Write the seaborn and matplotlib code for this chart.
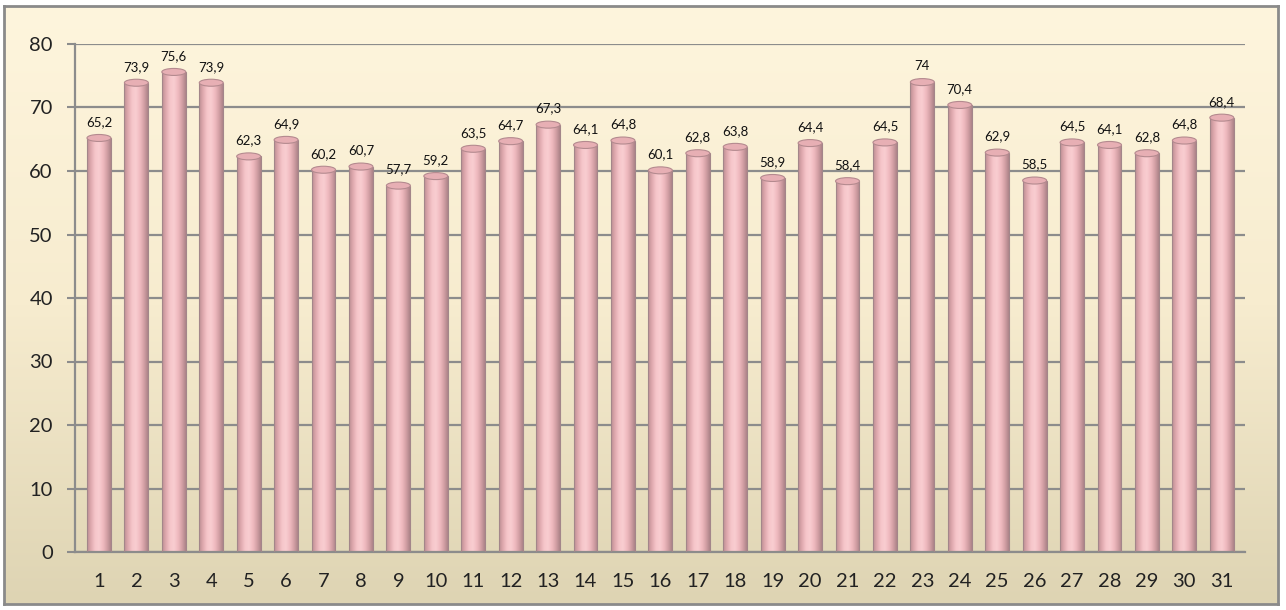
import numpy as np
import pandas as pd
import matplotlib
matplotlib.use("Agg")
import matplotlib.pyplot as plt
import seaborn as sns
from matplotlib.colors import LinearSegmentedColormap
from matplotlib.patches import Ellipse, Rectangle

days = [str(i) for i in range(1, 32)]
values = [65.2, 73.9, 75.6, 73.9, 62.3, 64.9, 60.2, 60.7, 57.7, 59.2,
          63.5, 64.7, 67.3, 64.1, 64.8, 60.1, 62.8, 63.8, 58.9, 64.4,
          58.4, 64.5, 74.0, 70.4, 62.9, 58.5, 64.5, 64.1, 62.8, 64.8, 68.4]
y_ticks = [0, 10, 20, 30, 40, 50, 60, 70, 80]

df = pd.DataFrame({"day": days, "value": values})

sns.set_theme(style="white")
plt.rcParams["font.family"] = ["Lato", "DejaVu Sans"]

W, H = 1286, 610
fig = plt.figure(figsize=(W / 100, H / 100), dpi=100)
fig.patch.set_facecolor("white")

# background panel with vertical gradient and grey border
bg = fig.add_axes([4 / W, 6 / H, (1278 - 4) / W, (604 - 6) / H])
bg_grad = np.linspace(0, 1, 256).reshape(-1, 1)
bg_cmap = LinearSegmentedColormap.from_list("bg", ["#FEF5DD", "#F7ECCF", "#DED4B3"])
bg.imshow(bg_grad, aspect="auto", cmap=bg_cmap, extent=[0, 1, 0, 1], origin="upper")
bg.set_xlim(0, 1)
bg.set_ylim(0, 1)
bg.set_xticks([])
bg.set_yticks([])
for s in bg.spines.values():
    s.set_color("#8A8A8A")
    s.set_linewidth(2)
bg.set_zorder(0)

ax = fig.add_axes([75 / W, 1 - 552 / H, (1245 - 75) / W, (552 - 44) / H])
ax.set_zorder(1)
ax.patch.set_alpha(0)

sns.barplot(data=df, x="day", y="value", ax=ax, color="#F0B9BD",
            width=0.64, edgecolor="none", linewidth=0, zorder=2)

cyl = LinearSegmentedColormap.from_list(
    "cyl", ["#BE8F93", "#E0AAAF", "#F6C6CA", "#F9CED1", "#F0BBC0", "#D6A2A7", "#AD8489"])
grad = np.linspace(0, 1, 64).reshape(1, -1)

xl = (-0.64, 30.62)
yl = (0, 80)
px_per_unit = (552 - 44) / 80.0
for p, v in zip(ax.patches, values):
    x0, w, h = p.get_x(), p.get_width(), p.get_height()
    im = ax.imshow(grad, extent=[x0, x0 + w, 0, h], aspect="auto", cmap=cyl,
                   zorder=2.5, interpolation="bicubic")
    im.set_clip_path(p)
    ax.add_patch(Rectangle((x0, 0), w, h, fill=False, edgecolor="#A3868A",
                           linewidth=0.8, zorder=2.6))
    ax.add_patch(Ellipse((x0 + w / 2, h), w, 7 / px_per_unit,
                         facecolor="#E7AFB4", edgecolor="#B48A8F",
                         linewidth=0.8, zorder=2.7))
    lab = f"{v:g}".replace(".", ",")
    ax.text(x0 + w / 2, h + 10 / px_per_unit, lab, ha="center", va="bottom",
            fontsize=9.5, color="#111111", zorder=4)

ax.set_xlim(*xl)
ax.set_ylim(*yl)
ax.set_yticks(y_ticks)
ax.set_yticklabels([str(t) for t in y_ticks])
ax.yaxis.grid(True, color="#8C8C8C", linewidth=1.6, zorder=1)
ax.set_axisbelow(True)
ax.set_xlabel("")
ax.set_ylabel("")

ax.set_xticks(range(len(days)))
ax.set_xticklabels(days)
ax.set_xticks([i - 0.5 for i in range(len(days) + 1)], minor=True)
ax.tick_params(axis="x", which="major", length=0, labelsize=14.5, colors="#222222", pad=15)
ax.tick_params(axis="x", which="minor", length=6, width=1.5, color="#8C8C8C", direction="out")
ax.tick_params(axis="y", which="major", length=6, width=1.5, color="#8C8C8C",
               labelsize=14.5, labelcolor="#222222", pad=10, left=True)

for side in ["top", "right"]:
    ax.spines[side].set_visible(False)
for side in ["left", "bottom"]:
    ax.spines[side].set_color("#8C8C8C")
    ax.spines[side].set_linewidth(1.6)

fig.savefig("out.png", dpi=100, facecolor="white")
